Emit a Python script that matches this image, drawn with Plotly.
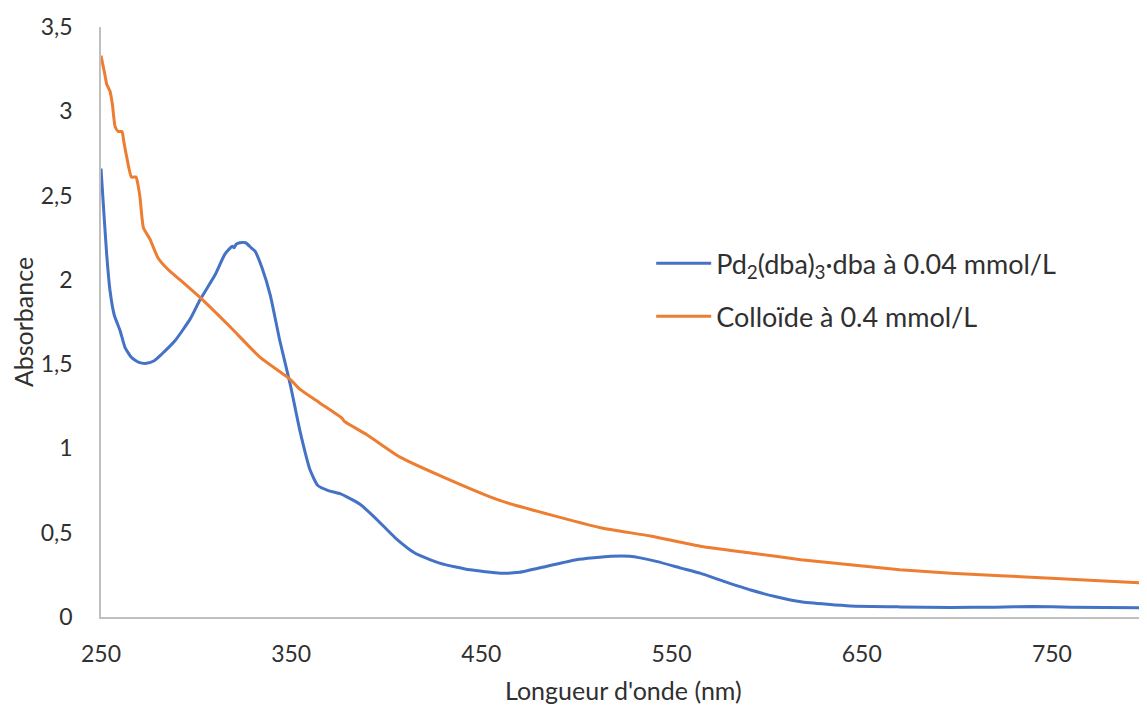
import plotly.graph_objects as go

# Pd2(dba)3·dba at 0.04 mmol/L
pd_wl = [250, 251.5, 253, 254.7, 257, 260, 262.6, 266, 270, 274, 278, 282, 289, 297, 302, 310,
         315, 318, 319, 320, 321, 323, 326, 329, 331, 334.7, 339, 344, 349.5, 354.7, 360, 364,
         369.5, 376, 386, 394, 404.7, 415, 428, 444, 460, 470, 484, 500, 518, 528, 542, 555,
         565, 578, 591.6, 605, 618, 632, 644, 670, 697, 720, 740, 760, 800]
pd_abs = [2.66, 2.40, 2.15, 1.94, 1.79, 1.70, 1.60, 1.54, 1.51, 1.505, 1.52, 1.56, 1.64, 1.77, 1.88, 2.03,
          2.15, 2.19, 2.20, 2.19, 2.21, 2.22, 2.22, 2.19, 2.17, 2.07, 1.91, 1.64, 1.38, 1.10, 0.87, 0.78,
          0.75, 0.73, 0.67, 0.59, 0.47, 0.38, 0.32, 0.28, 0.26, 0.265, 0.30, 0.34, 0.36, 0.36, 0.33, 0.29,
          0.26, 0.21, 0.16, 0.12, 0.09, 0.075, 0.065, 0.06, 0.057, 0.058, 0.062, 0.058, 0.055]

# Colloid at 0.4 mmol/L
col_wl = [250, 252, 253, 254.7, 256, 257.4, 259, 261, 262, 263.5, 266, 268.4, 269.5, 270.5, 272.3,
          275.8, 280, 285.4, 291.6, 302.6, 318, 333.7, 349.5, 354.7, 365, 376.7, 378, 390, 407, 430,
          460, 485, 512.6, 539, 565, 591.6, 618, 644, 670, 697, 723, 749.5, 775, 800]
col_abs = [3.33, 3.22, 3.16, 3.12, 3.04, 2.91, 2.88, 2.88, 2.82, 2.73, 2.61, 2.61, 2.56, 2.49, 2.31,
           2.24, 2.13, 2.06, 2.00, 1.89, 1.72, 1.54, 1.41, 1.35, 1.27, 1.18, 1.16, 1.08, 0.95, 0.83,
           0.69, 0.61, 0.53, 0.48, 0.42, 0.38, 0.34, 0.31, 0.28, 0.26, 0.245, 0.23, 0.215, 0.20]

x_ticks = [250, 350, 450, 550, 650, 750]
y_ticks = [0, 0.5, 1, 1.5, 2, 2.5, 3, 3.5]
y_ticktext = ["0", "0,5", "1", "1,5", "2", "2,5", "3", "3,5"]

FONT = "Lato, Open Sans, sans-serif"
TXT = "#303030"

fig = go.Figure()
fig.add_trace(go.Scatter(
    x=pd_wl, y=pd_abs, mode="lines",
    name="Pd<sub>2</sub>(dba)<sub>3</sub>·dba à 0.04 mmol/L",
    line=dict(color="#4472C4", width=3, shape="spline", smoothing=0.5),
    legendgroup="a",
))
fig.add_trace(go.Scatter(
    x=col_wl, y=col_abs, mode="lines",
    name="Colloïde à 0.4 mmol/L",
    line=dict(color="#ED7D31", width=3, shape="spline", smoothing=0.5),
    legendgroup="b",
))

# page body has an 8px margin, so the figure is sized to end at the window edge
fig.update_layout(
    width=1139, height=697,
    margin=dict(l=93, r=0, t=19, b=88),
    paper_bgcolor="white", plot_bgcolor="white",
    separators=", ",
    font=dict(family=FONT, color=TXT, size=23),
    legend=dict(
        x=0.526, y=0.554, xanchor="left", yanchor="middle",
        font=dict(family=FONT, size=27, color=TXT),
        traceorder="grouped", tracegroupgap=15,
        itemwidth=55,
        bgcolor="rgba(0,0,0,0)",
    ),
    showlegend=True,
)
fig.update_xaxes(
    range=[250, 800], tickvals=x_ticks, ticktext=[str(v) for v in x_ticks],
    showgrid=False, zeroline=False, showline=True, linecolor="#BFBFBF", linewidth=1.5,
    ticks="", ticklabelstandoff=16, automargin=False,
    tickfont=dict(family=FONT, size=23, color=TXT),
)
fig.update_yaxes(
    range=[0, 3.5], tickvals=y_ticks, ticktext=y_ticktext,
    showgrid=False, zeroline=False, showline=True, linecolor="#BFBFBF", linewidth=1.5,
    ticks="", ticklabelstandoff=22, automargin=False,
    tickfont=dict(family=FONT, size=23, color=TXT),
    title=dict(text="Absorbance", font=dict(family=FONT, size=25, color=TXT), standoff=10),
)
fig.add_annotation(
    text="Longueur d'onde (nm)", xref="paper", yref="paper", x=0.4995, y=0,
    xanchor="center", yanchor="middle", yshift=-73, showarrow=False,
    font=dict(family=FONT, size=25, color=TXT),
)

fig.write_html("out.html")
